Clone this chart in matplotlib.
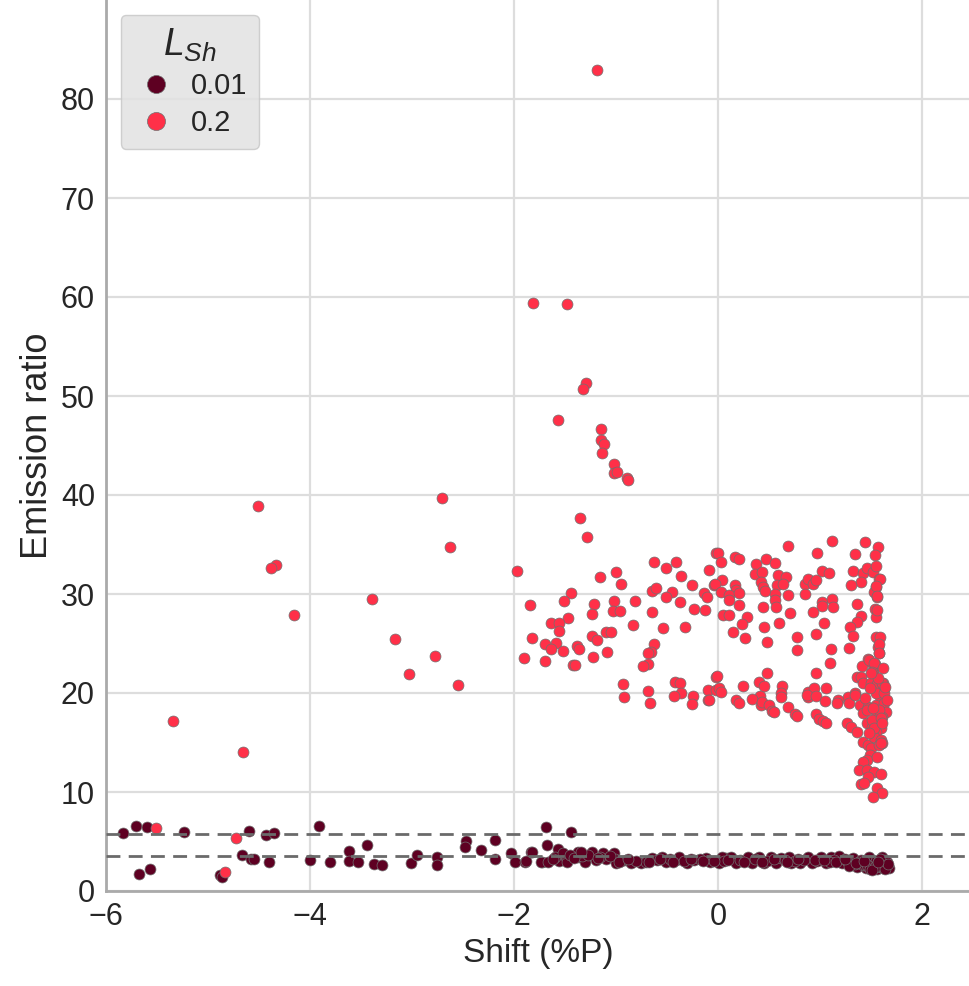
import matplotlib
matplotlib.use("Agg")
import matplotlib.pyplot as plt
from matplotlib.lines import Line2D

plt.rcParams["font.family"] = ["Liberation Sans", "DejaVu Sans"]
plt.rcParams["mathtext.fontset"] = "custom"
plt.rcParams["mathtext.it"] = "Liberation Sans:italic"
plt.rcParams["text.color"] = "#262626"
plt.rcParams["axes.labelcolor"] = "#262626"
plt.rcParams["xtick.color"] = "#262626"
plt.rcParams["ytick.color"] = "#262626"

# L_Sh = 0.01 runs
shift_low = [
    -5.83, -5.71, -5.60, -5.24, -5.68, -5.57, -4.88, -4.86, -4.60, -4.43, -4.35, -4.67,
    -4.58, -4.55, -4.40, -3.91, -4.00, -3.80, -3.62, -3.62, -3.53, -3.44, -3.37, -3.29,
    -3.01, -2.95, -2.76, -2.76, -2.47, -2.48, -2.32, -2.19, -2.19, -2.03, -1.99, -1.89,
    -1.83, -1.73, -1.69, -1.88, -1.82, -1.68, -1.44, -1.74, -1.67, -1.57, -1.56, -1.49,
    -1.48, -1.37, -1.37, -1.30, -1.24, -1.20, -1.13, -1.10, -1.02, -1.01, -1.00, -0.90,
    -0.85, -0.76, -0.71, -0.65, -0.55, -0.51, -0.41, -0.38, -0.30, -0.24, -0.12, -0.08,
    0.01, 0.08, 0.04, 0.13, 0.18, 0.29, 0.33, 0.40, 0.45, 0.52, 0.57, 0.62,
    0.70, 0.72, 0.80, 0.88, 0.92, 1.01, 1.06, 1.11, 1.19, 1.22, 1.32, 1.36,
    1.40, 1.45, 1.48, 1.53, 1.56, 1.61, 1.65, 1.68, 0.06, 0.22, 0.36, 0.48,
    0.66, 0.75, 0.84, 0.97, 1.14, 1.26, 1.30, 1.38, 1.42, 1.47, 1.50, 1.55,
    1.58, 1.60, 1.63, 1.66, -1.60, -1.52, -1.45, -1.33, -1.27, -1.16, -0.95, -0.80,
    -0.60, -0.47, -0.33, -0.18, -0.04, 1.44, 1.52, 1.57, 1.62, 1.34, 1.28, 1.10,
    -1.62, -1.41, -1.34, -1.18, -1.06, -0.97, -0.88, -0.68, -0.57, -0.44, -0.27, -0.15,
    0.10, 0.25, 0.43, 0.55, 0.68, 0.78, 0.95, 1.04, 1.16, 1.24, 1.35, 1.46,
    1.49, 1.54, 1.59, 1.64, 1.67, 1.43, 1.51, 1.57,
]
ratio_low = [
    5.9, 6.6, 6.5, 6.0, 1.7, 2.2, 1.6, 1.4, 6.1, 5.7, 5.9, 3.6,
    3.2, 3.2, 2.9, 6.6, 3.1, 2.9, 4.0, 3.0, 2.9, 4.6, 2.7, 2.6,
    2.8, 3.6, 3.4, 2.6, 5.1, 4.4, 4.1, 5.2, 3.2, 3.8, 2.9, 2.9,
    3.9, 2.9, 6.5, 3.0, 3.9, 4.6, 6.0, 2.9, 2.9, 4.2, 3.0, 3.4,
    2.9, 3.9, 3.4, 2.9, 3.9, 3.1, 3.8, 3.2, 3.8, 3.2, 2.8, 3.1,
    2.8, 2.8, 2.9, 3.3, 3.4, 2.9, 3.1, 3.4, 2.8, 3.1, 3.3, 2.9,
    2.8, 3.3, 3.4, 3.4, 2.8, 3.4, 2.8, 3.4, 2.8, 3.4, 2.8, 3.3,
    3.4, 2.8, 2.8, 3.4, 2.8, 3.4, 2.8, 3.4, 3.5, 2.8, 3.3, 2.4,
    3.1, 2.3, 3.4, 2.8, 2.2, 3.4, 2.6, 2.3, 3.0, 3.1, 3.2, 3.0,
    3.1, 3.0, 3.1, 3.0, 3.1, 3.0, 2.7, 2.9, 2.6, 2.9, 2.5, 3.0,
    2.7, 2.4, 3.1, 2.9, 3.4, 3.8, 3.6, 3.5, 3.6, 3.4, 3.0, 3.0,
    3.1, 3.2, 3.0, 3.2, 3.0, 2.6, 2.4, 2.9, 2.3, 2.7, 2.5, 2.9,
    3.2, 3.3, 3.9, 3.3, 3.5, 2.9, 3.2, 2.9, 3.2, 2.9, 3.2, 3.0,
    3.1, 2.9, 2.9, 3.2, 2.9, 3.2, 3.1, 3.1, 2.9, 3.2, 2.8, 2.6,
    2.2, 2.4, 3.2, 2.2, 2.7, 3.0, 2.1, 2.9,
]

# L_Sh = 0.2 runs
shift_high = [
    -1.19, -1.81, -1.48, -1.29, -1.32, -1.57, -1.15, -1.15, -1.12, -1.14, -1.02, -1.02,
    -0.99, -0.89, -0.88, -1.35, -1.28, -1.97, -4.51, -4.33, -4.38, -4.16, -2.71, -2.63,
    -3.39, -3.17, -2.77, -3.03, -2.55, -5.34, -4.66, -5.51, -4.73, -4.83,
    -0.63, -0.41, -0.51, -0.36, -0.09, -0.02, -1.16, -1.00, -0.95, -1.44, -1.51, -1.84,
    -1.22, -1.24, -1.02, -1.03, -0.96, -0.81, -0.65, -0.61, -0.45, -0.51, -0.37, -0.26,
    -0.24, -0.13, -0.14, -0.11, -0.04, -0.65, -1.47, -1.64, -1.56, -1.56, -0.83, -0.54,
    -0.32, -1.82, -1.24, -1.19, -1.10, -1.05, -1.70, -1.59, -1.64, -1.52, -1.38, -1.36,
    -1.90, -1.70, -1.42, -1.40, -1.23, -1.09, -0.63, -0.66, -0.69, -0.69, -0.74, -0.93,
    -0.92, -0.69, -0.67, -0.42, -0.37, -0.36, -0.43, -0.25, -0.26, -0.10, -0.10, -0.02,
    -0.02,
    0.00, 0.03, 0.17, 0.21, 0.69, 1.12, 1.44, 1.57, 1.54, 0.97, 1.34, 0.37,
    0.47, 0.56, 0.36, 0.43, 0.59, 0.67, 0.04, -0.03, 0.17, 0.18, 0.03, 0.11,
    0.11, 0.21, 0.42, 0.44, 0.46, 0.58, 0.64, 0.56, 0.56, 0.69, 0.57, 0.44,
    0.71, 0.60, 0.45, 0.21, 0.05, 0.11, 0.28, 0.23, 0.15, 0.26, 0.48, 0.77,
    0.77, 0.85, 0.88, 0.93, 0.96, 0.85, 1.02, 1.09, 1.02, 1.02, 1.12, 1.13,
    0.93, 1.04, 0.96, 1.11, 1.10, 1.28, 0.96, 1.32, 1.42, 1.46, 1.52, 1.55,
    1.40, 1.30, 1.58, 1.55, 1.53, 1.56, 1.36, 1.54, 1.55, 1.40, 1.36, 1.29,
    1.32, 1.55, 1.59, 1.57, 1.58, 1.47, 1.51, 1.54, 1.41, 1.52, 1.36, 1.40,
    0.48, -0.01, 0.24, 0.40, 0.45, 0.63, 0.01, 0.03, 0.88, 0.94, 1.06, 1.42,
    1.50, 1.56, 1.62, 1.59, 1.34, 1.27, 1.18, 0.41, 0.62, 0.88,
    -0.09, 0.18, 0.21, 0.33, 0.42, 0.43, 0.50, 0.53, 0.55, 0.62, 0.69, 0.75,
    0.77, 0.87, 0.96, 1.05, 0.96, 0.99, 1.03, 1.06, 1.17, 1.28, 1.26, 1.30,
    1.36, 1.42, 1.47, 1.50, 1.49, 1.46, 1.42, 1.38, 1.46, 1.53, 1.60, 1.47,
    1.40, 1.43, 1.56, 1.61, 1.52, 1.34, 1.39, 1.42, 1.47, 1.55, 1.58, 1.63,
    1.65, 1.61, 1.55, 1.46, 1.51, 1.60, 1.55, 1.53, 1.60, 1.61, 1.58,
    1.59, 1.55, 1.56, 1.56, 1.58, 1.58, 1.48, 1.53, 1.51, 1.61, 1.55, 1.63,
    1.66, 1.46, 1.58, 1.51, 1.60, 1.53, 1.60,
    1.49, 1.57, 1.62, 1.44, 1.52, 1.64, 1.48, 1.56, 1.61, 1.50,
]
ratio_high = [
    82.9, 59.4, 59.3, 51.3, 50.7, 47.6, 46.7, 45.6, 45.2, 44.2, 43.1, 42.2,
    42.3, 41.7, 41.5, 37.7, 35.8, 32.3, 38.9, 32.9, 32.6, 27.9, 39.7, 34.7,
    29.5, 25.5, 23.7, 21.9, 20.8, 17.2, 14.0, 6.4, 5.4, 1.9,
    33.2, 33.2, 32.6, 31.8, 32.4, 34.1, 31.7, 32.2, 31.0, 30.1, 29.3, 28.9,
    29.0, 28.0, 29.3, 28.3, 28.3, 29.3, 30.3, 30.6, 30.2, 29.7, 29.2, 30.9,
    28.5, 28.4, 30.1, 29.7, 30.9, 28.2, 27.6, 27.1, 27.1, 26.3, 26.9, 26.6,
    26.7, 25.6, 25.8, 25.4, 26.2, 26.2, 24.9, 25.1, 24.4, 24.2, 24.7, 24.4,
    23.5, 23.2, 22.8, 22.8, 23.6, 24.1, 24.9, 24.1, 24.0, 22.9, 22.7, 20.9,
    19.6, 20.2, 19.0, 21.1, 21.0, 20.0, 19.7, 19.7, 18.9, 20.3, 19.3, 21.6,
    20.3,
    34.1, 33.2, 33.7, 33.5, 34.8, 35.4, 35.3, 34.7, 33.9, 34.1, 34.0, 33.0,
    33.5, 33.1, 32.0, 32.2, 31.9, 31.7, 31.4, 31.0, 30.9, 30.4, 30.2, 29.9,
    29.4, 30.1, 31.2, 30.7, 30.3, 30.9, 31.0, 30.0, 29.4, 29.9, 28.7, 28.7,
    28.1, 27.1, 26.7, 28.9, 27.9, 27.9, 27.7, 27.0, 26.2, 25.6, 25.2, 25.7,
    24.3, 31.0, 31.5, 31.0, 31.4, 30.0, 32.3, 32.1, 29.2, 28.8, 29.5, 28.7,
    28.2, 27.1, 26.0, 24.4, 23.0, 24.5, 22.0, 32.3, 32.1, 32.6, 32.2, 32.8,
    31.2, 30.9, 31.5, 30.7, 30.2, 29.7, 29.0, 28.5, 27.7, 27.8, 27.2, 26.7,
    25.8, 25.7, 25.7, 24.6, 24.0, 23.4, 23.0, 22.9, 22.7, 22.1, 21.6, 21.6,
    22.0, 21.7, 20.7, 21.1, 20.7, 20.7, 20.5, 20.1, 20.1, 20.5, 20.5, 21.0,
    21.0, 20.9, 21.0, 19.9, 20.0, 19.6, 19.3, 19.7, 20.0, 19.6,
    19.3, 19.3, 19.0, 19.4, 18.8, 19.1, 18.8, 18.2, 18.1, 19.6, 18.6, 17.9,
    17.7, 19.8, 19.7, 19.2, 17.9, 17.4, 17.2, 17.0, 19.0, 19.0, 17.0, 16.6,
    16.1, 15.1, 14.7, 14.4, 13.7, 13.2, 13.0, 12.2, 12.2, 12.0, 11.8, 11.5,
    10.8, 10.9, 10.4, 9.9, 9.5, 19.8, 18.8, 18.0, 18.6, 18.8, 19.8, 19.0,
    18.1, 17.6, 17.6, 17.0, 16.6, 16.5, 16.1, 15.6, 15.3, 15.0, 14.7,
    31.5, 30.8, 29.8, 28.4, 25.0, 24.0, 23.3, 23.0, 22.1, 21.0, 20.0, 20.0,
    19.3, 18.3, 18.3, 17.3, 17.5, 16.5, 15.0,
    20.5, 21.5, 22.5, 19.5, 18.5, 20.6, 16.0, 13.5, 17.0, 22.0,
]

levels = ["0.01", "0.2"]
colors = {"0.01": "#5e0022", "0.2": "#ff3048"}
cut_lo, cut_hi = 3.55, 5.75

fig = plt.figure(figsize=(9.7, 9.86), dpi=100)
ax = fig.add_axes([106 / 970, 95 / 986, 864 / 970, 891 / 986])

ax.grid(True, color="#dddddd", linewidth=1.6, zorder=0)
ax.set_axisbelow(True)

ax.scatter(shift_low, ratio_low, s=62, color=colors["0.01"], edgecolor="#707070",
           linewidth=0.5, zorder=3)
ax.scatter(shift_high, ratio_high, s=62, color=colors["0.2"], edgecolor="#707070",
           linewidth=0.5, zorder=3)

for yv in (cut_lo, cut_hi):
    ax.axhline(yv, color="#6a6a6a", linewidth=2, dashes=(5, 3), zorder=4)

ax.set_xlim(-6, 2.47)
ax.set_ylim(0, 90)
ax.set_xticks([-6, -4, -2, 0, 2])
ax.set_yticks(range(0, 90, 10))
ax.tick_params(labelsize=22, length=0, pad=8)
ax.set_xlabel("Shift (%P)", fontsize=24)
ax.set_ylabel("Emission ratio", fontsize=26)

for side in ("top", "right"):
    ax.spines[side].set_visible(False)
for side in ("left", "bottom"):
    ax.spines[side].set_color("#aaaaaa")
    ax.spines[side].set_linewidth(2)

handles = [Line2D([], [], marker="o", linestyle="none", markersize=13,
                  markerfacecolor=colors[k], markeredgecolor="#707070",
                  markeredgewidth=0.5) for k in levels]
leg = ax.legend(handles, levels, title="$L_{Sh}$", loc="upper left",
                fontsize=21, title_fontsize=27, frameon=True, fancybox=True,
                handletextpad=0.4, borderpad=0.4, labelspacing=0.3,
                handlelength=1.6)
leg.get_frame().set_facecolor("#e2e2e2")
leg.get_frame().set_edgecolor("#c8c8c8")
leg.get_frame().set_alpha(0.85)

fig.savefig("out.png", dpi=100)
